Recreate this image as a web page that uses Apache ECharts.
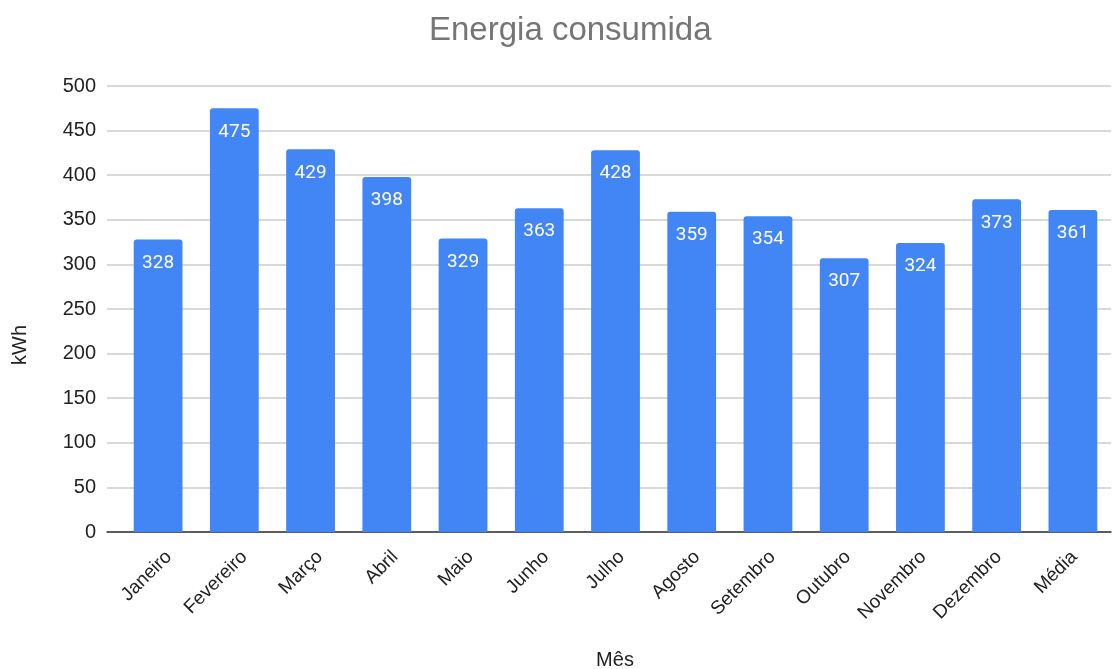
<!DOCTYPE html>
<html>
<head>
<meta charset="utf-8">
<script src="https://cdn.jsdelivr.net/npm/echarts@6/dist/echarts.min.js"></script>
<style>
  html, body { margin: 0; padding: 0; background: #fff; }
  #chart { width: 1112px; height: 669px; }
</style>
</head>
<body>
<div id="chart"></div>
<script>
// Monthly energy use (kWh) plus the yearly average
const months = ['Janeiro', 'Fevereiro', 'Março', 'Abril', 'Maio', 'Junho', 'Julho',
                'Agosto', 'Setembro', 'Outubro', 'Novembro', 'Dezembro', 'Média'];
const consumo = [328, 475, 429, 398, 329, 363, 428, 359, 354, 307, 324, 373, 361];
const yTicks = [0, 50, 100, 150, 200, 250, 300, 350, 400, 450, 500];

const sans = '"Liberation Sans", Arial, sans-serif';
const roboto = 'Roboto, Arial, sans-serif';
const yMin = yTicks[0];
const yMax = yTicks[yTicks.length - 1];
const chart = echarts.init(document.getElementById('chart'));

chart.setOption({
  animation: false,
  title: {
    text: 'Energia consumida',
    left: 424,
    top: 9,
    textStyle: { fontFamily: sans, fontSize: 33, fontWeight: 'normal', color: '#757575' }
  },
  grid: [
    // 0: frame with gridlines, value labels and baseline (runs slightly past the bars)
    { left: 107, right: 1, top: 86, bottom: 137 },
    // 1: bars
    { left: 120, right: 1, top: 86, bottom: 137 },
    // 2: month labels, nudged right so each one ends just past its bar centre
    { left: 131, right: -10, top: 86, bottom: 137 }
  ],
  xAxis: [
    {
      gridIndex: 0, type: 'value', min: 0, max: 1,
      axisLine: { show: true, onZero: false, lineStyle: { color: '#333', width: 1.5 } },
      axisTick: { show: false }, axisLabel: { show: false }, splitLine: { show: false }
    },
    {
      gridIndex: 1, type: 'category', data: months,
      axisLine: { show: false }, axisTick: { show: false }, axisLabel: { show: false }
    },
    {
      gridIndex: 2, type: 'category', data: months,
      axisLine: { show: false }, axisTick: { show: false },
      axisLabel: {
        rotate: 45, interval: 0, margin: 22,
        fontFamily: sans, fontSize: 19, color: '#222'
      }
    }
  ],
  yAxis: [
    {
      gridIndex: 0, type: 'value', min: yMin, max: yMax, interval: 50,
      axisLine: { show: false }, axisTick: { show: false },
      axisLabel: { margin: 11, fontFamily: sans, fontSize: 20, color: '#222' },
      splitLine: { lineStyle: { color: '#cccccc', width: 1.5 } }
    },
    {
      gridIndex: 1, type: 'value', min: yMin, max: yMax, interval: 50,
      axisLine: { show: false }, axisTick: { show: false },
      axisLabel: { show: false }, splitLine: { show: false }
    },
    {
      gridIndex: 2, type: 'value', min: yMin, max: yMax, interval: 50,
      axisLine: { show: false }, axisTick: { show: false },
      axisLabel: { show: false }, splitLine: { show: false }
    }
  ],
  graphic: [
    {
      type: 'text',
      x: 20, y: 345,
      rotation: Math.PI / 2,
      style: { text: 'kWh', fontFamily: sans, fontSize: 20, fill: '#222', align: 'center', verticalAlign: 'middle' }
    },
    {
      type: 'text',
      x: 615, y: 660,
      style: { text: 'Mês', fontFamily: sans, fontSize: 20, fill: '#222', align: 'center', verticalAlign: 'middle' }
    }
  ],
  series: [{
    type: 'bar',
    xAxisIndex: 1,
    yAxisIndex: 1,
    data: consumo,
    barWidth: '64%',
    itemStyle: { color: '#4285F4', borderRadius: [3, 3, 0, 0] },
    label: {
      show: true,
      position: 'insideTop',
      distance: 14,
      fontFamily: roboto,
      fontSize: 19,
      color: '#ffffff'
    }
  }]
});
</script>
</body>
</html>
